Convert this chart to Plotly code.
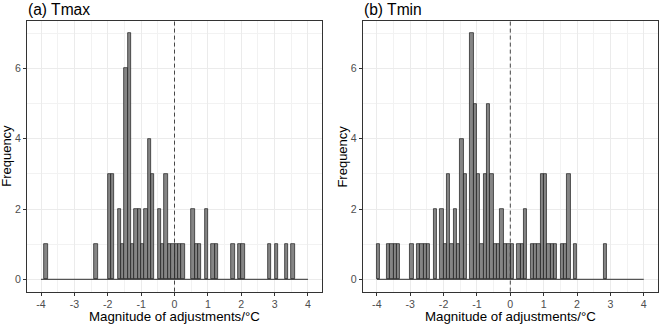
import plotly.graph_objects as go

# ---------------- data ----------------
bin_width = 0.1
bin_range = [-4.0, 4.0]

# left edges of non-empty bins and their counts
tmax_left = [-3.9, -2.4, -2.0, -1.9, -1.7, -1.6, -1.5, -1.4, -1.3, -1.2, -1.1, -1.0,
             -0.9, -0.8, -0.7, -0.5, -0.4, -0.3, -0.2, -0.1, 0.0, 0.1, 0.2,
             0.5, 0.6, 0.7, 0.9, 1.1, 1.2, 1.7, 1.9, 2.0, 2.8, 3.0, 3.3, 3.5]
tmax_counts = [1, 1, 3, 3, 2, 1, 6, 7, 1, 2, 2, 1,
               2, 4, 3, 2, 1, 3, 1, 1, 1, 1, 1,
               2, 1, 1, 2, 1, 1, 1, 1, 1, 1, 1, 1, 1]

tmin_left = [-4.0, -3.7, -3.6, -3.5, -3.4, -3.0, -2.8, -2.7, -2.6, -2.5, -2.3, -2.1,
             -2.0, -1.9, -1.8, -1.7, -1.6, -1.5, -1.4, -1.2, -1.1, -1.0, -0.9, -0.8,
             -0.7, -0.6, -0.5, -0.4, -0.3, -0.2, -0.1, 0.0, 0.2, 0.3, 0.4, 0.6,
             0.7, 0.8, 0.9, 1.0, 1.1, 1.2, 1.3, 1.5, 1.6, 1.7, 1.9, 2.8]
tmin_counts = [1, 1, 1, 1, 1, 1, 1, 1, 1, 1, 2, 2,
               1, 3, 1, 2, 1, 4, 3, 7, 5, 3, 1, 3,
               5, 3, 1, 1, 2, 1, 1, 1, 1, 1, 2, 1,
               1, 1, 3, 3, 1, 1, 1, 1, 1, 3, 1, 1]

x_ticks = [-4, -3, -2, -1, 0, 1, 2, 3, 4]
x_tick_labels = ["-4", "-3", "-2", "-1", "0", "1", "2", "3", "4"]
x_minor = [-4.5, -3.5, -2.5, -1.5, -0.5, 0.5, 1.5, 2.5, 3.5]
y_ticks = [0, 2, 4, 6]
y_tick_labels = ["0", "2", "4", "6"]
y_minor = [1, 3, 5, 7]

panel_titles = ["(a) Tmax", "(b) Tmin"]
x_title = "Magnitude of adjustments/°C"
y_title = "Frequency"

# ---------------- figure ----------------
W, H = 660, 324
FONT = "Arial, Liberation Sans, Helvetica, sans-serif"

fig = go.Figure()

panels = [
    dict(left=tmax_left, counts=tmax_counts, xa="x", ya="y", px0=27.0, px1=322.0),
    dict(left=tmin_left, counts=tmin_counts, xa="x2", ya="y2", px0=362.8, px1=657.8),
]

for p in panels:
    # zero-height bins drawn as the baseline over the whole bin range
    fig.add_trace(go.Scatter(x=bin_range, y=[0, 0], mode="lines",
                             line=dict(color="#1a1a1a", width=0.9),
                             xaxis=p["xa"], yaxis=p["ya"], hoverinfo="skip"))
    fig.add_trace(go.Bar(x=[v + bin_width / 2 for v in p["left"]], y=p["counts"],
                         width=bin_width,
                         marker=dict(color="#858585", line=dict(color="#1a1a1a", width=0.7)),
                         xaxis=p["xa"], yaxis=p["ya"]))

y_top, y_bot = 21.0, 291.6
ydom = [1 - y_bot / H, 1 - y_top / H]

def xaxis_def(p):
    return dict(domain=[p["px0"] / W, p["px1"] / W], range=[-4.42, 4.42],
                tickmode="array", tickvals=x_ticks, ticktext=x_tick_labels,
                ticks="outside", ticklen=3, tickwidth=1, tickcolor="#333333",
                tickfont=dict(family=FONT, size=10.6, color="#4D4D4D"),
                showgrid=True, gridcolor="#EBEBEB", gridwidth=1,
                minor=dict(tickmode="array", tickvals=x_minor, showgrid=True,
                           gridcolor="#F2F2F2", gridwidth=0.8, ticks=""),
                showline=True, mirror=True, linecolor="#333333", linewidth=1,
                zeroline=False, fixedrange=True)

def yaxis_def(anchor):
    return dict(domain=ydom, range=[-0.35, 7.35], anchor=anchor,
                tickmode="array", tickvals=y_ticks, ticktext=y_tick_labels,
                ticks="outside", ticklen=3, tickwidth=1, tickcolor="#333333",
                tickfont=dict(family=FONT, size=10.6, color="#4D4D4D"),
                showgrid=True, gridcolor="#EBEBEB", gridwidth=1,
                minor=dict(tickmode="array", tickvals=y_minor, showgrid=True,
                           gridcolor="#F2F2F2", gridwidth=0.8, ticks=""),
                showline=True, mirror=True, linecolor="#333333", linewidth=1,
                zeroline=False, fixedrange=True)

xa1 = xaxis_def(panels[0]); xa1["anchor"] = "y"
xa2 = xaxis_def(panels[1]); xa2["anchor"] = "y2"

fig.update_layout(
    width=W, height=H, margin=dict(l=0, r=0, t=0, b=0),
    paper_bgcolor="white", plot_bgcolor="white",
    showlegend=False, bargap=0, barmode="overlay",
    font=dict(family=FONT, color="black"),
    xaxis=xa1, xaxis2=xa2,
    yaxis=yaxis_def("x"), yaxis2=yaxis_def("x2"),
)

# dashed vertical reference line at 0
for xr, yr in [("x", "y domain"), ("x2", "y2 domain")]:
    fig.add_shape(type="line", xref=xr, yref=yr, x0=0, x1=0, y0=0, y1=1,
                  line=dict(color="#333333", width=0.9, dash="4px,3px"), layer="above")

# titles and axis titles
for i, p in enumerate(panels):
    fig.add_annotation(text=panel_titles[i], xref="paper", yref="paper",
                       x=(p["px0"] - 1) / W, y=1 - 9.5 / H, xanchor="left", yanchor="middle",
                       showarrow=False, font=dict(family=FONT, size=15.6, color="black"))
    fig.add_annotation(text=x_title, xref="paper", yref="paper",
                       x=(p["px0"] + p["px1"]) / 2 / W, y=1 - 316.5 / H,
                       xanchor="center", yanchor="middle", showarrow=False,
                       font=dict(family=FONT, size=13.3, color="black"))
    fig.add_annotation(text=y_title, xref="paper", yref="paper",
                       x=(p["px0"] - 20.5) / W, y=1 - (y_top + y_bot) / 2 / H,
                       xanchor="center", yanchor="middle", textangle=-90, showarrow=False,
                       font=dict(family=FONT, size=13, color="black"))

fig.write_html("out.html",
               config={"displayModeBar": False},
               post_script="document.body.style.margin='0';document.body.style.overflow='hidden';")
